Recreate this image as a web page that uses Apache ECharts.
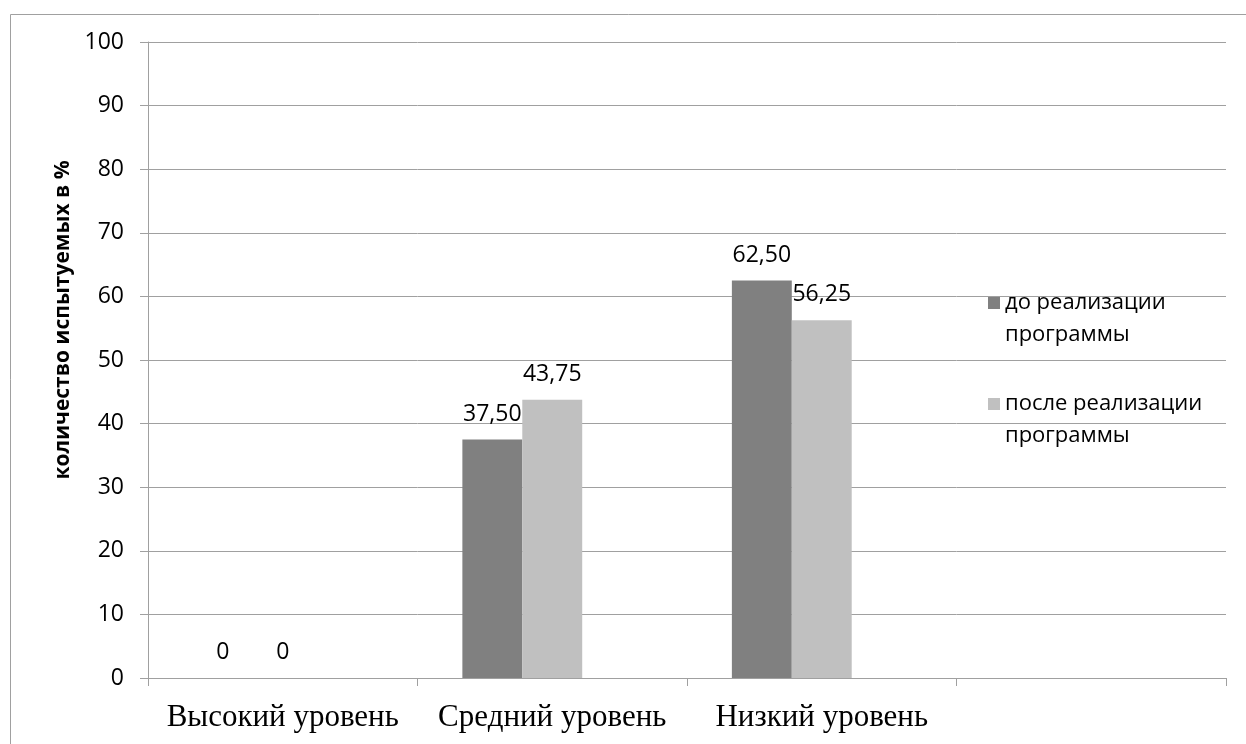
<!DOCTYPE html>
<html>
<head>
<meta charset="utf-8">
<script src="https://cdn.jsdelivr.net/npm/echarts@6/dist/echarts.min.js"></script>
<style>
html,body{margin:0;padding:0;background:#fff;}
#chart{width:1246px;height:744px;}
</style>
</head>
<body>
<div id="chart"></div>
<script>
const categories = ['Высокий уровень', 'Средний уровень', 'Низкий уровень', ''];
const seriesNames = ['до реализации программы', 'после реализации программы'];
const beforeValues = [0, 37.5, 62.5, null];
const afterValues = [0, 43.75, 56.25, null];
const emptyValues = [null, null, null, null];
const yTitle = 'количество испытуемых в %';

const chart = echarts.init(document.getElementById('chart'));
const fmt = p => (p.value === 0 ? '0' : p.value.toFixed(2).replace('.', ','));
const labelCfg = {show: true, position: 'top', distance: 14, color: '#000', fontFamily: 'Open Sans', fontSize: 23, formatter: fmt};

chart.setOption({
  animation: false,
  backgroundColor: '#fff',
  graphic: [{
    type: 'rect', left: 8, top: 12, shape: {width: 1400, height: 900},
    style: {fill: 'none', stroke: '#a0a0a0', lineWidth: 1}, silent: true, z: -1
  }],
  grid: {left: 148, right: 20, top: 42, bottom: 66, containLabel: false},
  legend: {
    orient: 'vertical', left: 988, top: 255, padding: 0,
    itemWidth: 12, itemHeight: 12, itemGap: 5,
    data: seriesNames,
    icon: 'rect',
    formatter: n => '\n' + n.replace(' программы', '\nпрограммы'),
    textStyle: {fontFamily: 'Open Sans', fontSize: 22, color: '#000', lineHeight: 32}
  },
  xAxis: {
    type: 'category', data: categories,
    axisLine: {lineStyle: {color: '#a0a0a0'}},
    axisTick: {show: true, length: 8, lineStyle: {color: '#a0a0a0'}},
    axisLabel: {fontFamily: 'Liberation Serif', fontSize: 31, color: '#000', margin: 24, interval: 0}
  },
  yAxis: {
    type: 'value', min: 0, max: 100, interval: 10,
    name: yTitle, nameLocation: 'middle', nameRotate: 90, nameGap: 74,
    nameTextStyle: {fontFamily: 'Open Sans', fontWeight: 'bold', fontSize: 21, color: '#000', padding: [0, 0, 0, 80]},
    axisLine: {show: true, lineStyle: {color: '#a0a0a0'}},
    axisTick: {show: true, length: 8, lineStyle: {color: '#a0a0a0'}},
    axisLabel: {fontFamily: 'Open Sans', fontSize: 23, color: '#000', margin: 24},
    splitLine: {lineStyle: {color: '#a0a0a0'}}
  },
  series: [
    {name: seriesNames[0], type: 'bar', data: beforeValues, barGap: '0%', barCategoryGap: '33.3%', itemStyle: {color: '#808080'}, label: labelCfg},
    {name: seriesNames[1], type: 'bar', data: afterValues, itemStyle: {color: '#c0c0c0'}, label: labelCfg},
    {name: 'empty', type: 'bar', data: emptyValues, itemStyle: {color: '#ffffff'}}
  ]
});
</script>
</body>
</html>
